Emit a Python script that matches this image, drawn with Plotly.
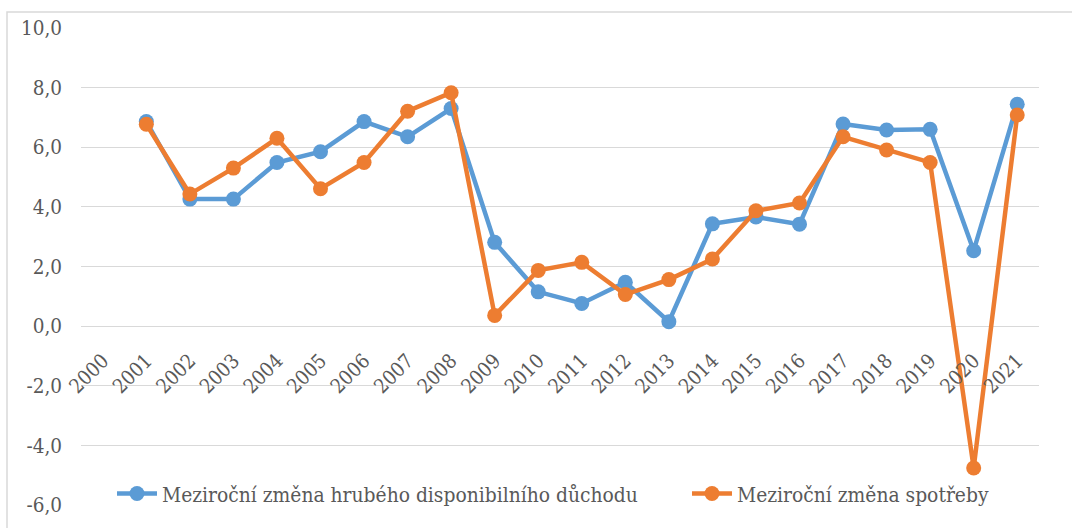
import plotly.graph_objects as go

years = [str(y) for y in range(2000, 2022)]
income = [None, 6.86, 4.26, 4.26, 5.49, 5.85, 6.86, 6.35, 7.30, 2.81, 1.15, 0.76,
          1.47, 0.15, 3.43, 3.66, 3.42, 6.78, 6.58, 6.60, 2.53, 7.44]
consumption = [None, 6.77, 4.43, 5.30, 6.30, 4.61, 5.49, 7.21, 7.83, 0.36, 1.87, 2.14,
               1.06, 1.56, 2.25, 3.87, 4.13, 6.35, 5.91, 5.49, -4.76, 7.08]
series_names = ["Meziroční změna hrubého disponibilního důchodu", "Meziroční změna spotřeby"]
y_ticks = [-6, -4, -2, 0, 2, 4, 6, 8, 10]
y_tick_labels = ["-6,0", "-4,0", "-2,0", "0,0", "2,0", "4,0", "6,0", "8,0", "10,0"]

BLUE = "#5B9BD5"
ORANGE = "#ED7D31"
TXT = "#595959"
FONT = "DejaVu Serif Condensed"

W, H = 1072, 528
L, R, T, B = 81, 33, 28, 23
pw, ph = W - L - R, H - T - B

fig = go.Figure()
for name, vals, col, lg in [(series_names[0], income, BLUE, "legend"),
                            (series_names[1], consumption, ORANGE, "legend2")]:
    fig.add_trace(go.Scatter(
        x=years, y=vals, name=name, mode="lines+markers",
        line=dict(color=col, width=4.5),
        marker=dict(color=col, size=15),
        connectgaps=False, legend=lg,
    ))

leg_common = dict(
    orientation="h", xanchor="left", yanchor="middle",
    bgcolor="rgba(0,0,0,0)",
    itemwidth=40,
    font=dict(family=FONT, size=20.8, color=TXT),
)

fig.update_layout(
    width=W, height=H,
    margin=dict(l=L, r=R, t=T, b=B),
    paper_bgcolor="white", plot_bgcolor="white",
    font=dict(family=FONT, size=20, color=TXT),
    showlegend=True,
    legend=dict(x=(112 - L) / pw, y=(505 - 494) / ph, **leg_common),
    legend2=dict(x=(687 - L) / pw, y=(505 - 494) / ph, **leg_common),
    xaxis=dict(
        type="category", categoryorder="array", categoryarray=years,
        anchor="free", position=6 / 16,
        tickangle=-45, showgrid=False, showline=False, zeroline=False,
        ticks="", tickfont=dict(family=FONT, size=20, color=TXT),
        range=[-0.5, len(years) - 0.5],
        ticklabelstandoff=18,
    ),
    yaxis=dict(
        range=[-6, 10], tickvals=y_ticks, ticktext=y_tick_labels,
        showgrid=True, gridcolor="#D9D9D9", gridwidth=1.3,
        zeroline=False, showline=False, ticks="",
        tickfont=dict(family=FONT, size=20.5, color=TXT),
        ticklabelstandoff=18,
    ),
    shapes=[dict(
        type="rect", xref="paper", yref="paper", layer="below",
        x0=(7 - L) / pw, x1=(W + 5 - L) / pw,
        y0=(505 - (H + 5)) / ph, y1=(505 - 12) / ph,
        line=dict(color="#D9D9D9", width=1.5), fillcolor="rgba(0,0,0,0)",
    )],
)

fig.write_html("out.html", config={"displayModeBar": False})
with open("out.html", encoding="utf-8") as f:
    html = f.read()
html = html.replace("<body>", '<body style="margin:0;padding:0;overflow:hidden">', 1)
with open("out.html", "w", encoding="utf-8") as f:
    f.write(html)
